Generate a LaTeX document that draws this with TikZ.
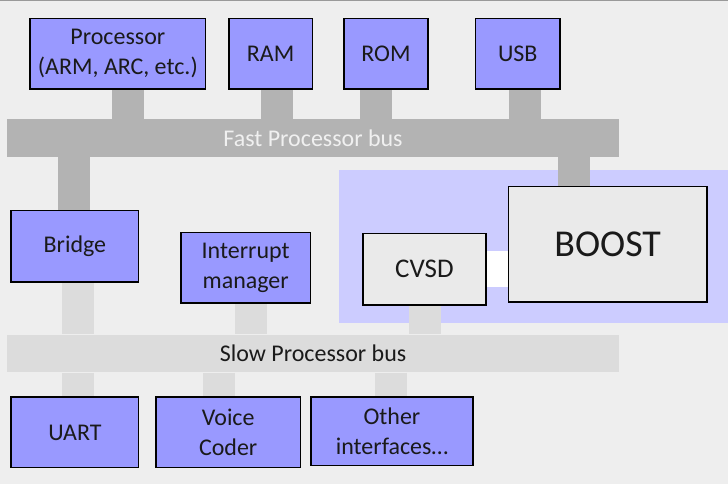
\documentclass[tikz,border=0pt]{standalone}
\usepackage{fontspec}
\setmainfont{Carlito}
\usetikzlibrary{calc}

\definecolor{pagebg}{HTML}{EEEEEE}
\definecolor{blockfill}{HTML}{9999FF}
\definecolor{zonefill}{HTML}{CCCCFF}
\definecolor{corefill}{HTML}{EAEAEA}
\definecolor{fastgray}{HTML}{B3B3B3}
\definecolor{slowgray}{HTML}{DCDCDC}
\definecolor{ink}{HTML}{1A1A1A}

\pgfdeclarelayer{page}
\pgfdeclarelayer{zone}
\pgfdeclarelayer{wires}
\pgfsetlayers{page,zone,wires,main}

\tikzset{
  block/.style={draw=black, line width=1.5pt, fill=blockfill, text=ink,
    align=center, inner sep=0pt, font=\fontsize{24}{30}\selectfont},
  core/.style={block, fill=corefill},
  busbar/.style={inner sep=0pt, minimum width=612pt, minimum height=38pt,
    font=\fontsize{24}{30}\selectfont},
  fastwire/.style={draw=fastgray, line width=32pt, line cap=butt},
  slowwire/.style={draw=slowgray, line width=32pt, line cap=butt},
  corelink/.style={draw=white, line width=36pt, line cap=butt},
}

\begin{document}
\begin{tikzpicture}[x=1pt, y=-1pt]
  % page
  \begin{pgfonlayer}{page}
    \fill[pagebg] (0,0) rectangle (728,485);
    \draw[gray!80, line width=1pt] (0,0.5) -- (728,0.5);
  \end{pgfonlayer}
  \useasboundingbox (0,0) rectangle (728,485);

  % top row
  \node[block, minimum width=175.5pt, minimum height=70.5pt] (proc) at (117.5,54)
    {Processor\\(ARM, ARC, etc.)};
  \node[block, minimum width=83.5pt, minimum height=70.5pt] (ram) at (270.5,54) {RAM};
  \node[block, minimum width=84.5pt, minimum height=70.5pt] (rom) at (386,54) {ROM};
  \node[block, minimum width=84.5pt, minimum height=70.5pt] (usb) at (518,54) {USB};

  % fast bus
  \node[busbar, fill=fastgray, text=white!94!black] (fastbus) at (313,138) {Fast Processor bus};

  % BOOST zone
  \begin{pgfonlayer}{zone}
    \fill[zonefill] (339,170) rectangle (728,323);
  \end{pgfonlayer}
  \node[core, minimum width=198.5pt, minimum height=115.5pt,
        font=\fontsize{38}{44}\selectfont] (boost) at (608,244.5) {BOOST};
  \node[core, minimum width=123.5pt, minimum height=71.5pt,
        font=\fontsize{27}{32}\selectfont] (cvsd) at (424.5,269.5) {CVSD};

  % middle row
  \node[block, minimum width=127.5pt, minimum height=71.5pt] (bridge) at (74.5,246.5) {Bridge};
  \node[block, minimum width=129.5pt, minimum height=70.5pt] (intr) at (245.5,268)
    {Interrupt\\manager};

  % slow bus
  \node[busbar, fill=slowgray, text=ink] (slowbus) at (313,354) {Slow Processor bus};

  % bottom row
  \node[block, minimum width=127.5pt, minimum height=70.5pt] (uart) at (74.5,433) {UART};
  \node[block, minimum width=144.5pt, minimum height=70.5pt] (voice) at (228,433)
    {Voice\\Coder};
  \node[block, minimum width=162.5pt, minimum height=68.5pt] (other) at (392,432)
    {Other\\interfaces…};

  % bus connections
  \begin{pgfonlayer}{wires}
    \draw[fastwire] (128,0 |- proc.south)   -- (128,0 |- fastbus.north);
    \draw[fastwire] (276.5,0 |- ram.south)  -- (276.5,0 |- fastbus.north);
    \draw[fastwire] (376,0 |- rom.south)    -- (376,0 |- fastbus.north);
    \draw[fastwire] (525,0 |- usb.south)    -- (525,0 |- fastbus.north);
    \draw[fastwire] (74,0 |- fastbus.south) -- (74,0 |- bridge.north);
    \draw[fastwire] (574,0 |- fastbus.south) -- (574,0 |- boost.north);

    \draw[slowwire] (78,0 |- bridge.south)  -- (78,0 |- slowbus.north);
    \draw[slowwire] (250.5,0 |- intr.south) -- (250.5,0 |- slowbus.north);
    \draw[slowwire] (425,0 |- cvsd.south)   -- (425,0 |- slowbus.north);
    \draw[slowwire] (78,0 |- slowbus.south) -- (78,0 |- uart.north);
    \draw[slowwire] (219,0 |- slowbus.south) -- (219,0 |- voice.north);
    \draw[slowwire] (391,0 |- slowbus.south) -- (391,0 |- other.north);

    \draw[corelink] (cvsd.east |- 0,269) -- (boost.west |- 0,269);
  \end{pgfonlayer}
\end{tikzpicture}
\end{document}
